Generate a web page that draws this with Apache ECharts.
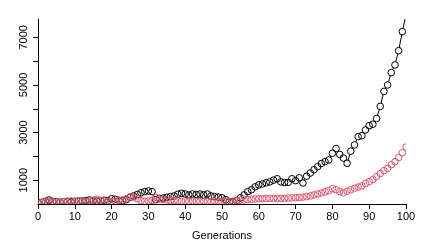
<!DOCTYPE html>
<html><head><meta charset="utf-8">
<script src="https://cdn.jsdelivr.net/npm/echarts@6/dist/echarts.min.js"></script>
<style>html,body{margin:0;padding:0;background:#fff}#c{width:424px;height:249px}</style>
</head><body><div id="c"></div>
<script>
const generations = Array.from({length:101},(_, i)=>i);
const xTicks = [0,10,20,30,40,50,60,70,80,90,100];
const yTicks = [1000,2000,3000,4000,5000,6000,7000];
const yLabels = [1000,3000,5000,7000];
const blackSeries = [40,70,110,170,110,90,80,90,100,90,
 110,120,130,140,170,130,120,140,160,130,
 220,200,150,140,180,280,340,400,470,520,
 550,520,180,240,250,280,310,340,410,450,
 420,380,420,400,420,380,420,340,310,290,
 260,180,80,90,150,260,380,520,600,720,
 800,840,890,930,1000,1060,930,900,910,1060,
 980,1100,880,1170,1300,1440,1570,1700,1780,1850,
 2130,2330,2080,1930,1710,2220,2480,2830,2870,3110,
 3290,3350,3590,4100,4730,5000,5520,5840,6440,7240,7950];
const pinkSeries = [30,60,90,110,100,70,80,90,120,130,
 110,140,110,100,130,160,200,150,120,100,
 110,120,150,170,220,300,290,220,140,120,
 130,150,280,210,190,170,150,140,130,120,
 120,110,120,110,100,110,100,100,110,100,
 90,100,110,120,140,160,170,190,200,210,
 220,225,230,240,235,230,235,240,250,255,
 265,275,290,310,340,380,420,460,510,560,
 650,600,520,470,540,600,660,710,760,860,
 940,1030,1150,1280,1400,1500,1650,1780,1950,2150,2390];

const R = 3.3;
function makeRender(arr, color){
  return function(params, api){
    const i = params.dataIndex;
    const p = api.coord([generations[i], arr[i]]);
    const children = [{type:'circle', shape:{cx:p[0], cy:p[1], r:R}, style:{fill:'none', stroke:color, lineWidth:1}}];
    if (i < arr.length-1){
      const q = api.coord([generations[i+1], arr[i+1]]);
      const dx=q[0]-p[0], dy=q[1]-p[1], d=Math.hypot(dx,dy);
      if (d > 2*R+0.5){
        const ux=dx/d, uy=dy/d;
        children.push({type:'line', shape:{x1:p[0]+ux*R, y1:p[1]+uy*R, x2:q[0]-ux*R, y2:q[1]-uy*R}, style:{stroke:color, lineWidth:1}});
      }
    }
    return {type:'group', children};
  };
}
const font = 'Liberation Sans, Arial, sans-serif';
const chart = echarts.init(document.getElementById('c'), null, {renderer:'canvas'});
chart.setOption({
  animation:false,
  backgroundColor:'#fff',
  grid:{left:38, right:18, top:19, bottom:45},
  xAxis:{type:'value', min:0, max:100, interval:10,
    name:'Generations', nameLocation:'middle', nameGap:26,
    nameTextStyle:{color:'#000', fontSize:11, fontFamily:font},
    axisLine:{show:true, lineStyle:{color:'#000', width:1}},
    axisTick:{show:true, length:5, lineStyle:{color:'#000'}, customValues:xTicks},
    axisLabel:{color:'#000', fontSize:11, fontFamily:font, margin:7, customValues:xTicks, formatter:v=>String(v)},
    splitLine:{show:false}},
  yAxis:{type:'value', min:0, max:7770,
    axisLine:{show:true, lineStyle:{color:'#000', width:1}},
    axisTick:{show:true, length:5, lineStyle:{color:'#000'}, customValues:yTicks},
    axisLabel:{color:'#000', fontSize:11, fontFamily:font, rotate:90, margin:9, customValues:yLabels, formatter:v=>String(v)},
    splitLine:{show:false}},
  series:[
    {type:'custom', clip:true, renderItem:makeRender(blackSeries,'#000000'),
      data:generations.map((g,i)=>[g, blackSeries[i]]), encode:{x:0,y:1}},
    {type:'custom', clip:true, renderItem:makeRender(pinkSeries,'#DF536B'),
      data:generations.map((g,i)=>[g, pinkSeries[i]]), encode:{x:0,y:1}}
  ]
});
</script></body></html>
